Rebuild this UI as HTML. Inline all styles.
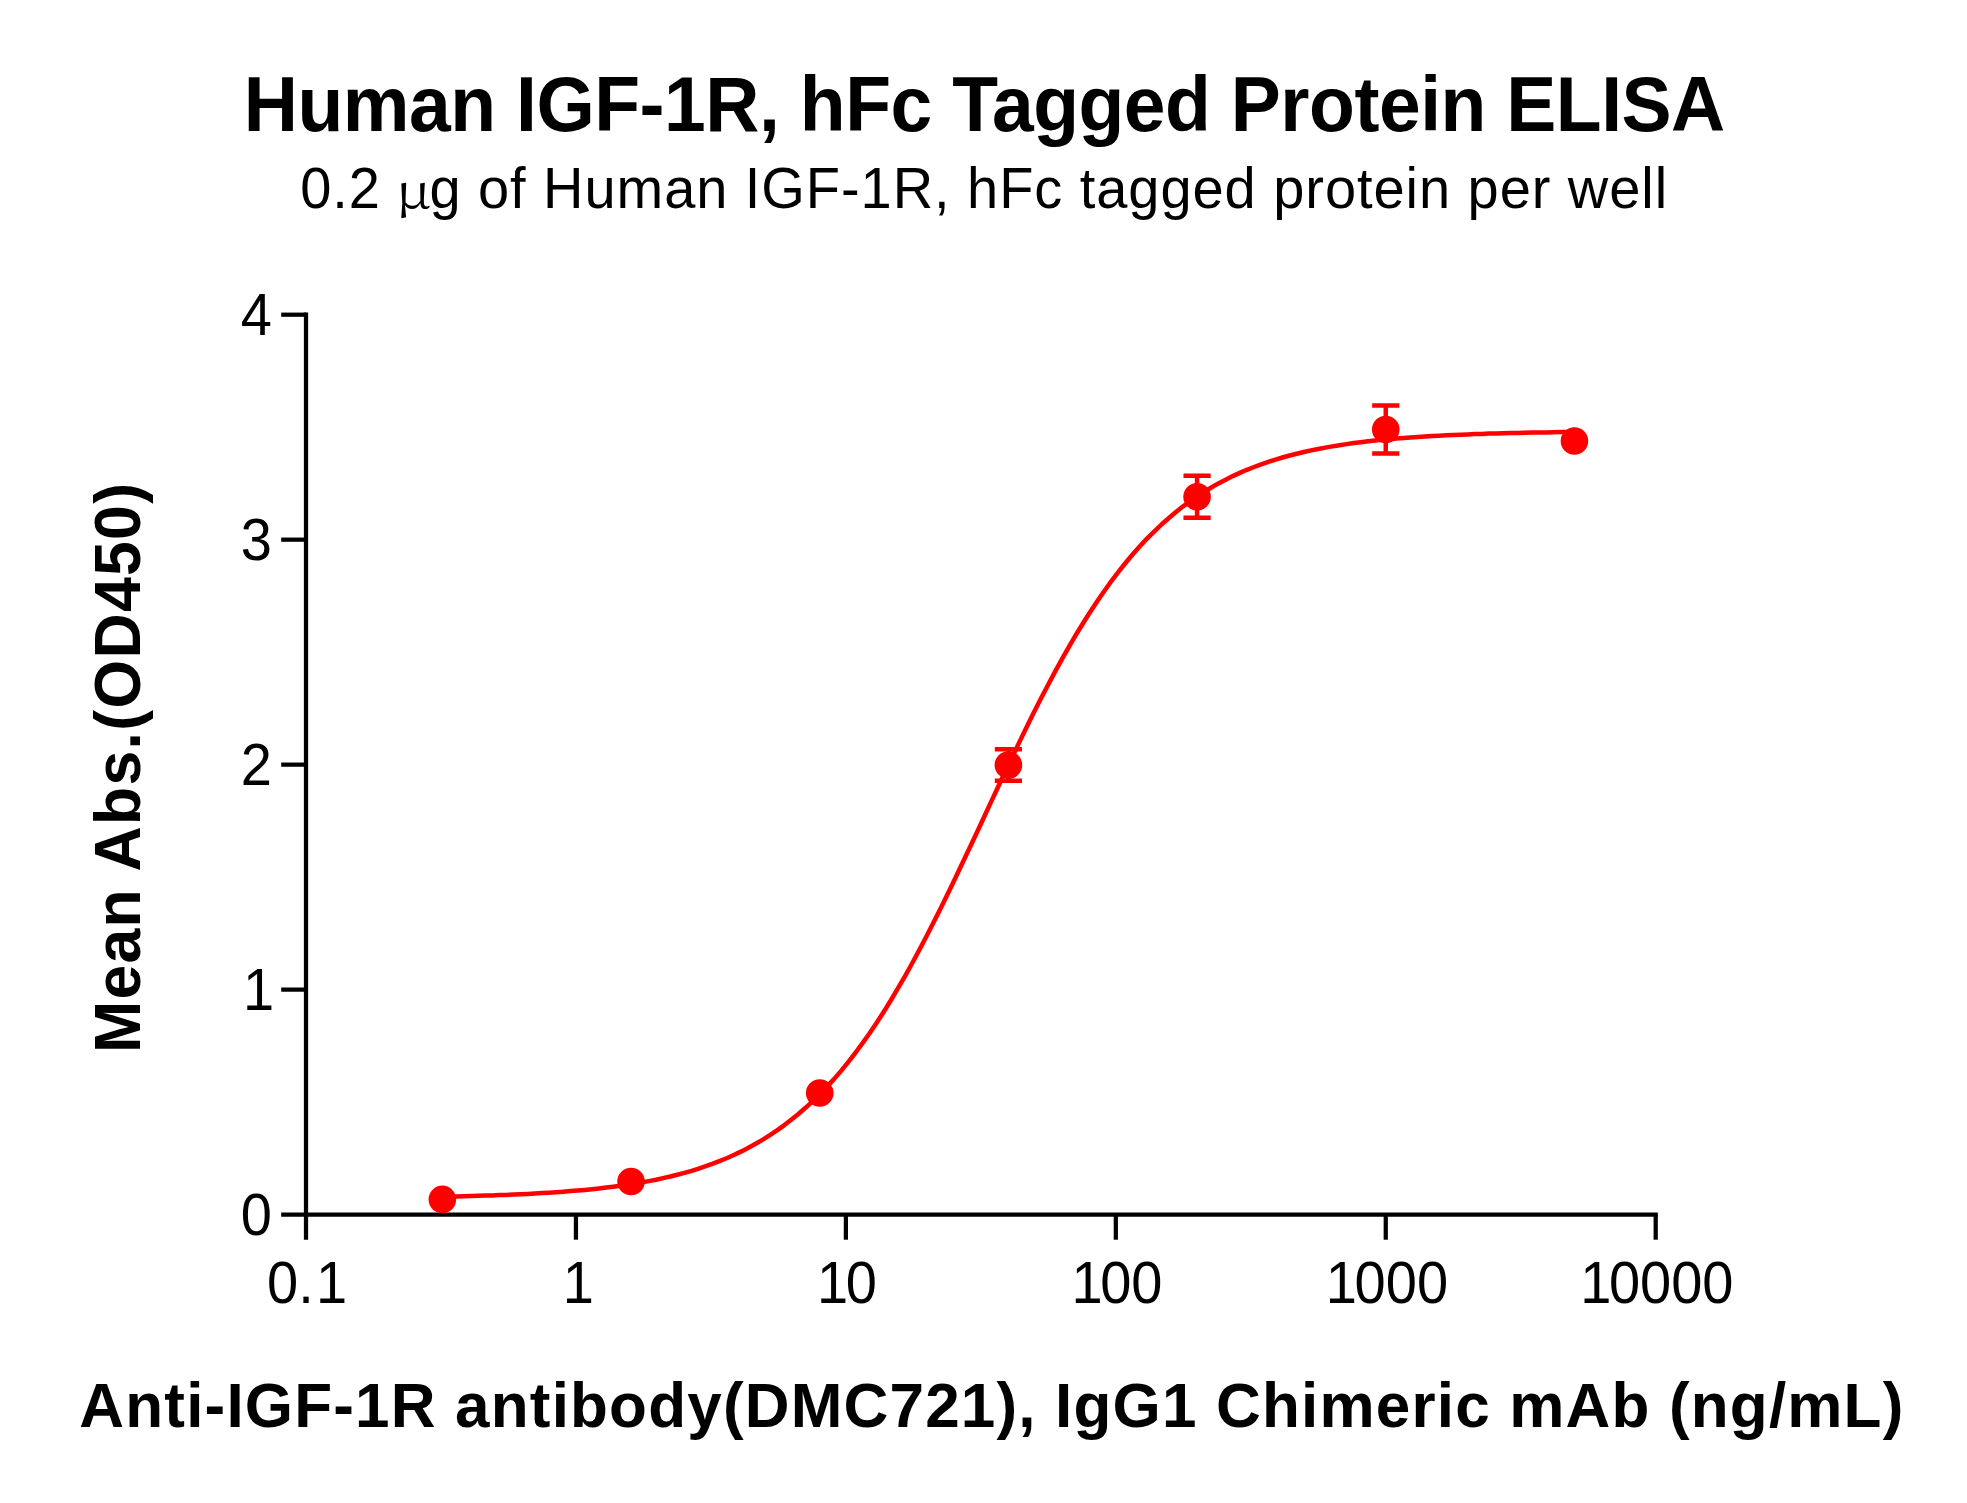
<!DOCTYPE html>
<html lang="en">
<head>
<meta charset="utf-8">
<title>Human IGF-1R, hFc Tagged Protein ELISA</title>
<style>
html,body{margin:0;padding:0;background:#fff;}
body{width:1967px;height:1503px;overflow:hidden;}
svg{display:block;}
text{font-family:"Liberation Sans",Arial,Helvetica,sans-serif;fill:#000;}
.b{font-weight:bold;}
.mu{font-family:"Noto Serif CJK SC","Liberation Serif","DejaVu Serif",serif;}
.ax{stroke:#000;stroke-width:4.25;fill:none;stroke-linecap:butt;}
.rd{stroke:#ff0000;stroke-width:4.5;fill:none;}
.dot{fill:#ff0000;stroke:none;}
</style>
</head>
<body>
<svg width="1967" height="1503" viewBox="0 0 1967 1503">
<rect x="0" y="0" width="1967" height="1503" fill="#ffffff"/>
<!-- titles -->
<text id="title" class="b" transform="translate(243.80 130.90) scale(1 1.03)" font-size="75" textLength="1481.50" lengthAdjust="spacing">Human IGF-1R, hFc Tagged Protein ELISA</text>
<text id="sub" transform="translate(300.20 208.00) scale(1 1.01)" font-size="56" textLength="1367.00" lengthAdjust="spacing">0.2 <tspan class="mu" font-size="47.0" dx="-1.6" textLength="35.15" lengthAdjust="spacingAndGlyphs">μ</tspan><tspan dx="-2.5">g</tspan> of Human IGF-1R, hFc tagged protein per well</text>
<!-- axes -->
<g class="ax">
<path d="M306.00 312.57V1239.70"/>
<path d="M281.20 1214.60H1657.83"/>
<path d="M281.20 989.62H306.00"/>
<path d="M281.20 764.65H306.00"/>
<path d="M281.20 539.67H306.00"/>
<path d="M281.20 314.70H306.00"/>
<path d="M575.94 1214.60V1239.70"/>
<path d="M845.88 1214.60V1239.70"/>
<path d="M1115.82 1214.60V1239.70"/>
<path d="M1385.76 1214.60V1239.70"/>
<path d="M1655.70 1214.60V1239.70"/>
</g>
<!-- tick labels -->
<text id="yt0" transform="translate(240.75 1234.60) scale(1 1.042)" font-size="56">0</text>
<text id="yt1" transform="translate(240.75 1009.62) scale(1 1.042)" font-size="56"><tspan dx="2.3">1</tspan></text>
<text id="yt2" transform="translate(240.75 784.65) scale(1 1.042)" font-size="56">2</text>
<text id="yt3" transform="translate(240.75 559.67) scale(1 1.042)" font-size="56">3</text>
<text id="yt4" transform="translate(240.75 334.70) scale(1 1.042)" font-size="56">4</text>
<text id="xt0" transform="translate(267.07 1303.00) scale(1 1.042)" font-size="56">0.<tspan dx="2.3">1</tspan></text>
<text id="xt1" transform="translate(560.37 1303.00) scale(1 1.042)" font-size="56"><tspan dx="2.3">1</tspan></text>
<text id="xt2" transform="translate(814.73 1303.00) scale(1 1.042)" font-size="56"><tspan dx="2.3">1</tspan><tspan dx="-2.3">0</tspan></text>
<text id="xt3" transform="translate(1069.10 1303.00) scale(1 1.042)" font-size="56"><tspan dx="2.3">1</tspan><tspan dx="-2.3">0</tspan>0</text>
<text id="xt4" transform="translate(1323.47 1303.00) scale(1 1.042)" font-size="56"><tspan dx="2.3">1</tspan><tspan dx="-2.3">0</tspan>00</text>
<text id="xt5" transform="translate(1577.83 1303.00) scale(1 1.042)" font-size="56"><tspan dx="2.3">1</tspan><tspan dx="-2.3">0</tspan>000</text>
<!-- axis titles -->
<text id="ylab" class="b" transform="translate(139.90 1053.00) rotate(-90) scale(1 1.04)" font-size="62.5" textLength="570.00" lengthAdjust="spacing">Mean Abs.(OD450)</text>
<text id="xlab" class="b" transform="translate(79.30 1426.60) scale(1 1.03)" font-size="62" textLength="1824.00" lengthAdjust="spacing">Anti-IGF-1R antibody(DMC721), IgG1 Chimeric mAb (ng/mL)</text>
<!-- fitted curve and data -->
<polyline class="rd" stroke-linejoin="round" points="442.4,1196.7 449.5,1196.6 456.6,1196.4 463.7,1196.2 470.8,1196.0 478.0,1195.8 485.1,1195.6 492.2,1195.4 499.3,1195.1 506.4,1194.9 513.6,1194.6 520.7,1194.3 527.8,1193.9 534.9,1193.5 542.0,1193.1 549.2,1192.7 556.3,1192.2 563.4,1191.7 570.5,1191.1 577.6,1190.5 584.8,1189.9 591.9,1189.2 599.0,1188.4 606.1,1187.6 613.2,1186.7 620.4,1185.7 627.5,1184.7 634.6,1183.6 641.7,1182.4 648.8,1181.1 656.0,1179.7 663.1,1178.1 670.2,1176.5 677.3,1174.7 684.4,1172.8 691.6,1170.8 698.7,1168.6 705.8,1166.2 712.9,1163.7 720.0,1160.9 727.2,1158.0 734.3,1154.8 741.4,1151.4 748.5,1147.7 755.6,1143.8 762.8,1139.6 769.9,1135.2 777.0,1130.4 784.1,1125.3 791.2,1119.8 798.4,1114.0 805.5,1107.8 812.6,1101.3 819.7,1094.3 826.8,1086.9 834.0,1079.1 841.1,1070.9 848.2,1062.1 855.3,1053.0 862.4,1043.4 869.6,1033.3 876.7,1022.7 883.8,1011.7 890.9,1000.2 898.0,988.2 905.2,975.8 912.3,963.0 919.4,949.8 926.5,936.2 933.6,922.3 940.8,908.1 947.9,893.6 955.0,878.8 962.1,863.8 969.2,848.7 976.4,833.5 983.5,818.2 990.6,802.9 997.7,787.7 1004.8,772.5 1012.0,757.5 1019.1,742.6 1026.2,728.0 1033.3,713.6 1040.4,699.5 1047.6,685.8 1054.7,672.4 1061.8,659.4 1068.9,646.9 1076.0,634.7 1083.2,623.0 1090.3,611.8 1097.4,601.0 1104.5,590.7 1111.6,580.8 1118.8,571.4 1125.9,562.5 1133.0,554.0 1140.1,546.0 1147.2,538.4 1154.4,531.3 1161.5,524.5 1168.6,518.2 1175.7,512.2 1182.8,506.6 1190.0,501.3 1197.1,496.4 1204.2,491.8 1211.3,487.5 1218.4,483.4 1225.6,479.7 1232.7,476.1 1239.8,472.9 1246.9,469.8 1254.0,467.0 1261.2,464.3 1268.3,461.9 1275.4,459.6 1282.5,457.5 1289.6,455.5 1296.8,453.7 1303.9,452.0 1311.0,450.4 1318.1,449.0 1325.2,447.6 1332.4,446.4 1339.5,445.2 1346.6,444.1 1353.7,443.1 1360.8,442.2 1368.0,441.3 1375.1,440.6 1382.2,439.8 1389.3,439.2 1396.4,438.5 1403.6,438.0 1410.7,437.4 1417.8,436.9 1424.9,436.5 1432.0,436.0 1439.2,435.7 1446.3,435.3 1453.4,435.0 1460.5,434.7 1467.6,434.4 1474.8,434.1 1481.9,433.9 1489.0,433.6 1496.1,433.4 1503.2,433.2 1510.4,433.1 1517.5,432.9 1524.6,432.7 1531.7,432.6 1538.8,432.5 1546.0,432.4 1553.1,432.2 1560.2,432.1 1567.3,432.1 1574.4,432.0"/>
<circle class="dot" cx="442.36" cy="1199.40" r="13.8"/>
<circle class="dot" cx="631.04" cy="1181.50" r="13.8"/>
<circle class="dot" cx="819.72" cy="1092.95" r="13.8"/>
<path class="rd" d="M1008.40 749.35V780.65M994.80 749.35H1022.00M994.80 780.65H1022.00"/>
<circle class="dot" cx="1008.40" cy="765.00" r="13.8"/>
<path class="rd" d="M1197.08 475.70V517.80M1183.48 475.70H1210.68M1183.48 517.80H1210.68"/>
<circle class="dot" cx="1197.08" cy="496.75" r="13.8"/>
<path class="rd" d="M1385.76 405.50V453.44M1372.16 405.50H1399.36M1372.16 453.44H1399.36"/>
<circle class="dot" cx="1385.76" cy="429.47" r="13.8"/>
<circle class="dot" cx="1574.44" cy="441.05" r="13.8"/>
</svg>
</body>
</html>
